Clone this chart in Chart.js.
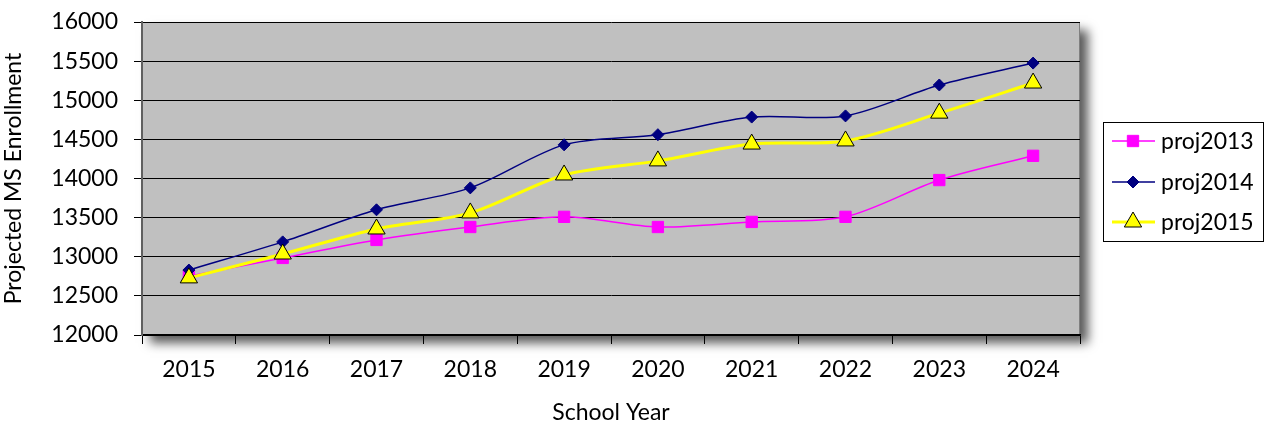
<!DOCTYPE html>
<html>
<head>
<meta charset="utf-8">
<script src="https://cdn.jsdelivr.net/npm/chart.js@4/dist/chart.umd.min.js"></script>
<style>
  html, body { margin: 0; padding: 0; background: #fff; }
  #wrap { width: 1265px; height: 426px; }
</style>
</head>
<body>
<div id="wrap"><canvas id="myChart" width="1265" height="426"></canvas></div>
<script>
// school years on the x axis
const years = ['2015', '2016', '2017', '2018', '2019', '2020', '2021', '2022', '2023', '2024'];

// projected MS enrollment
const proj2013 = [12750, 12985, 13215, 13380, 13510, 13380, 13445, 13510, 13980, 14290];
const proj2014 = [12830, 13190, 13600, 13880, 14430, 14560, 14785, 14800, 15195, 15475];
const proj2015 = [12730, 13035, 13355, 13560, 14045, 14225, 14440, 14480, 14835, 15220];

const yTicks = [12000, 12500, 13000, 13500, 14000, 14500, 15000, 15500, 16000];

const font = "Lato, 'Open Sans', sans-serif";

// gray plot area with a drop shadow, like the spreadsheet chart
const plotBg = {
  id: 'plotBg',
  beforeDraw(chart) {
    const { ctx, chartArea: a } = chart;
    ctx.save();
    ctx.shadowColor = 'rgba(0,0,0,0.65)';
    ctx.shadowBlur = 10;
    ctx.shadowOffsetX = 8;
    ctx.shadowOffsetY = 8;
    ctx.fillStyle = '#c0c0c0';
    ctx.fillRect(a.left, a.top, a.right - a.left, a.bottom - a.top);
    ctx.restore();
    ctx.save();
    ctx.strokeStyle = '#808080';
    ctx.lineWidth = 1;
    ctx.beginPath();
    ctx.moveTo(a.right - 0.5, a.top);
    ctx.lineTo(a.right - 0.5, a.bottom);
    ctx.stroke();
    ctx.restore();
  }
};

// legend box on the right: line with marker, then label
const boxLegend = {
  id: 'boxLegend',
  afterDraw(chart) {
    const ctx = chart.ctx;
    const x0 = 1103, y0 = 122, w = 161, h = 120;
    ctx.save();
    ctx.fillStyle = '#fff';
    ctx.fillRect(x0, y0, w, h);
    ctx.strokeStyle = '#000';
    ctx.lineWidth = 1;
    ctx.strokeRect(x0 + 0.5, y0 + 0.5, w - 1, h - 1);
    const rows = [141, 182, 222];
    chart.data.datasets.forEach((ds, i) => {
      const y = rows[i];
      ctx.strokeStyle = ds.borderColor;
      ctx.lineWidth = ds.borderWidth;
      ctx.beginPath();
      ctx.moveTo(1112, y);
      ctx.lineTo(1155, y);
      ctx.stroke();
      ctx.fillStyle = ds.pointBackgroundColor;
      ctx.strokeStyle = ds.pointBorderColor;
      ctx.lineWidth = ds.pointBorderWidth;
      Chart.helpers.drawPoint(ctx, {
        pointStyle: ds.pointStyle,
        radius: ds.pointRadius,
        borderWidth: ds.pointBorderWidth
      }, 1133, y);
      ctx.fillStyle = '#000';
      ctx.font = '23px ' + font;
      ctx.textBaseline = 'middle';
      ctx.fillText(ds.label, 1161, y + 1);
    });
    ctx.restore();
  }
};

new Chart(document.getElementById('myChart'), {
  type: 'line',
  data: {
    labels: years,
    datasets: [{
      label: 'proj2013',
      data: proj2013,
      borderColor: '#ff00ff',
      borderWidth: 1.5,
      pointStyle: 'rect',
      pointRadius: 8,
      pointBackgroundColor: '#ff00ff',
      pointBorderColor: '#ff00ff',
      pointBorderWidth: 1,
      tension: 0.3,
      order: 3
    }, {
      label: 'proj2014',
      data: proj2014,
      borderColor: '#000080',
      borderWidth: 1.5,
      pointStyle: 'rectRot',
      pointRadius: 6,
      pointBackgroundColor: '#000080',
      pointBorderColor: '#000080',
      pointBorderWidth: 1,
      tension: 0.3,
      order: 2
    }, {
      label: 'proj2015',
      data: proj2015,
      borderColor: '#ffff00',
      borderWidth: 3,
      pointStyle: 'triangle',
      pointRadius: 10,
      pointBackgroundColor: '#ffff00',
      pointBorderColor: '#000',
      pointBorderWidth: 1,
      tension: 0.3,
      order: 1
    }]
  },
  options: {
    responsive: false,
    animation: false,
    layout: { padding: { top: 22, right: 185, left: 0, bottom: 0 } },
    plugins: {
      legend: { display: false },
      tooltip: { enabled: false }
    },
    scales: {
      x: {
        offset: true,
        afterFit(scale) { scale.height = 91; },
        grid: {
          offset: true,
          drawOnChartArea: false,
          color: '#000',
          tickLength: 9
        },
        border: { color: '#000', width: 1.5 },
        ticks: { color: '#000', font: { family: font, size: 23 }, padding: 12, maxRotation: 0 },
        title: {
          display: true,
          text: 'School Year',
          color: '#000',
          font: { family: font, size: 23 },
          padding: { top: 12, bottom: 0 }
        }
      },
      y: {
        min: 12000,
        max: 16000,
        afterFit(scale) {
          scale.width = 142;
          scale.paddingTop = 0;
          scale.paddingBottom = 0;
        },
        afterBuildTicks(scale) { scale.ticks = yTicks.map(v => ({ value: v })); },
        grid: { color: '#000', tickLength: 8, lineWidth: 1 },
        border: { color: '#606060', width: 2 },
        ticks: {
          color: '#000',
          font: { family: font, size: 23 },
          padding: 16,
          callback: v => String(v)
        },
        title: {
          display: true,
          text: 'Projected MS Enrollment',
          color: '#000',
          font: { family: font, size: 23 },
          padding: { top: 0, bottom: 2 }
        }
      }
    }
  },
  plugins: [plotBg, boxLegend]
});
</script>
</body>
</html>
